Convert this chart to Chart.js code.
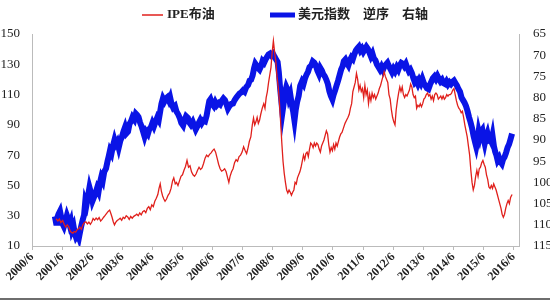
<!DOCTYPE html>
<html lang="zh">
<head>
<meta charset="UTF-8">
<title>IPE布油与美元指数</title>
<style>
    html, body { margin: 0; padding: 0; background: #fff; }
    #chartBox { width: 550px; height: 298px; border-bottom: 2px solid #6e6e6e; }
</style>
</head>
<body>
<div id="chartBox"><canvas id="oilChart" width="550" height="298"></canvas></div>

<script src="https://cdn.jsdelivr.net/npm/chart.js"></script>
<script>
    // x values are decimal years
    const oilDates = [2001.30, 2001.36, 2001.41, 2001.46, 2001.52, 2001.57, 2001.62, 2001.67, 2001.72, 2001.77, 2001.81, 2001.86, 2001.90, 2001.95, 2002.00, 2002.05, 2002.09, 2002.14, 2002.19, 2002.24, 2002.29, 2002.34, 2002.39, 2002.44, 2002.49, 2002.53, 2002.58, 2002.63, 2002.68, 2002.73, 2002.78, 2002.83, 2002.88, 2002.93, 2002.98, 2003.03, 2003.08, 2003.12, 2003.16, 2003.20, 2003.24, 2003.28, 2003.33, 2003.38, 2003.43, 2003.48, 2003.53, 2003.58, 2003.63, 2003.68, 2003.73, 2003.78, 2003.83, 2003.88, 2003.93, 2003.98, 2004.03, 2004.08, 2004.13, 2004.18, 2004.23, 2004.28, 2004.33, 2004.38, 2004.43, 2004.48, 2004.53, 2004.58, 2004.63, 2004.68, 2004.72, 2004.76, 2004.80, 2004.84, 2004.88, 2004.92, 2004.97, 2005.02, 2005.07, 2005.12, 2005.17, 2005.21, 2005.26, 2005.30, 2005.35, 2005.40, 2005.45, 2005.50, 2005.55, 2005.60, 2005.65, 2005.70, 2005.75, 2005.80, 2005.85, 2005.90, 2005.95, 2006.00, 2006.05, 2006.10, 2006.15, 2006.20, 2006.25, 2006.30, 2006.35, 2006.40, 2006.45, 2006.50, 2006.55, 2006.60, 2006.65, 2006.70, 2006.75, 2006.80, 2006.85, 2006.90, 2006.95, 2007.00, 2007.04, 2007.08, 2007.13, 2007.18, 2007.23, 2007.28, 2007.33, 2007.38, 2007.43, 2007.48, 2007.53, 2007.58, 2007.63, 2007.68, 2007.72, 2007.77, 2007.82, 2007.86, 2007.90, 2007.94, 2007.98, 2008.02, 2008.06, 2008.10, 2008.15, 2008.20, 2008.24, 2008.28, 2008.32, 2008.36, 2008.40, 2008.44, 2008.48, 2008.52, 2008.56, 2008.60, 2008.64, 2008.68, 2008.72, 2008.76, 2008.80, 2008.84, 2008.88, 2008.92, 2008.96, 2009.00, 2009.04, 2009.08, 2009.12, 2009.16, 2009.20, 2009.24, 2009.28, 2009.32, 2009.36, 2009.40, 2009.44, 2009.48, 2009.52, 2009.56, 2009.60, 2009.64, 2009.68, 2009.72, 2009.76, 2009.80, 2009.84, 2009.88, 2009.92, 2009.96, 2010.00, 2010.04, 2010.08, 2010.12, 2010.16, 2010.20, 2010.24, 2010.28, 2010.32, 2010.36, 2010.40, 2010.44, 2010.48, 2010.52, 2010.56, 2010.60, 2010.64, 2010.68, 2010.72, 2010.76, 2010.80, 2010.85, 2010.90, 2010.95, 2011.00, 2011.04, 2011.08, 2011.12, 2011.16, 2011.20, 2011.24, 2011.28, 2011.32, 2011.36, 2011.40, 2011.44, 2011.48, 2011.52, 2011.56, 2011.60, 2011.64, 2011.68, 2011.72, 2011.76, 2011.80, 2011.84, 2011.88, 2011.92, 2011.96, 2012.00, 2012.04, 2012.08, 2012.12, 2012.16, 2012.20, 2012.24, 2012.28, 2012.32, 2012.36, 2012.40, 2012.44, 2012.48, 2012.52, 2012.56, 2012.60, 2012.64, 2012.68, 2012.72, 2012.76, 2012.80, 2012.84, 2012.88, 2012.92, 2012.96, 2013.00, 2013.04, 2013.08, 2013.12, 2013.16, 2013.20, 2013.24, 2013.28, 2013.32, 2013.36, 2013.40, 2013.44, 2013.48, 2013.52, 2013.56, 2013.60, 2013.64, 2013.68, 2013.72, 2013.76, 2013.80, 2013.84, 2013.88, 2013.92, 2013.96, 2014.00, 2014.04, 2014.08, 2014.12, 2014.16, 2014.20, 2014.24, 2014.28, 2014.32, 2014.36, 2014.40, 2014.44, 2014.48, 2014.52, 2014.56, 2014.60, 2014.64, 2014.68, 2014.72, 2014.76, 2014.80, 2014.84, 2014.88, 2014.92, 2014.96, 2015.00, 2015.04, 2015.08, 2015.12, 2015.16, 2015.20, 2015.24, 2015.28, 2015.32, 2015.36, 2015.40, 2015.44, 2015.48, 2015.52, 2015.56, 2015.60, 2015.64, 2015.68, 2015.72, 2015.76, 2015.80, 2015.84, 2015.88, 2015.92, 2015.96, 2016.00, 2016.04, 2016.08, 2016.12, 2016.16, 2016.20, 2016.24, 2016.28, 2016.32, 2016.36, 2016.40, 2016.45];
    const oilValues = [28.0, 26.5, 27.8, 25.5, 26.8, 24.2, 22.5, 24.0, 22.6, 20.0, 19.0, 18.5, 19.6, 19.2, 20.8, 21.4, 22.5, 21.0, 24.0, 25.5, 26.0, 24.6, 25.8, 24.3, 26.0, 28.2, 27.0, 28.5, 27.4, 28.8, 26.5, 27.6, 29.0, 30.2, 31.5, 32.8, 33.7, 31.5, 29.0, 26.0, 24.0, 25.6, 26.8, 27.5, 28.3, 27.0, 29.0, 28.2, 30.0, 29.2, 27.6, 29.5, 28.4, 29.6, 30.2, 31.0, 30.0, 31.8, 30.6, 32.6, 33.4, 32.0, 34.8, 36.0, 34.0, 37.2, 36.0, 39.5, 41.5, 44.0, 48.0, 51.0, 46.0, 43.0, 41.0, 39.5, 41.0, 43.5, 45.0, 48.0, 53.0, 55.0, 51.0, 52.0, 50.0, 53.0, 56.0, 57.0, 60.0, 62.5, 66.5, 62.0, 63.0, 59.0, 57.0, 56.0, 57.5, 60.0, 62.0, 60.5, 61.5, 64.5, 68.0, 70.0, 69.0, 70.5, 71.5, 73.0, 74.0, 72.0, 68.0, 64.0, 61.0, 59.5, 60.0, 61.0, 59.0, 55.0, 52.0, 56.0, 59.0, 61.0, 65.0, 67.0, 66.0, 69.0, 70.0, 72.0, 75.5, 73.0, 71.0, 75.0, 79.0, 82.0, 90.0, 94.5, 90.0, 92.0, 95.0, 91.0, 93.0, 97.0, 101.0, 104.0, 101.0, 108.0, 112.0, 118.0, 123.0, 128.0, 138.0, 145.5, 138.0, 132.0, 122.0, 115.0, 105.0, 92.0, 78.0, 66.0, 58.0, 52.0, 47.0, 45.0, 47.0, 45.5, 43.5, 45.5, 47.0, 52.0, 51.0, 55.0, 57.0, 59.0, 62.0, 66.0, 70.0, 67.0, 71.0, 72.0, 69.0, 74.0, 78.0, 77.0, 75.0, 78.0, 76.0, 78.0, 77.0, 74.0, 72.0, 76.0, 78.0, 80.0, 83.0, 86.0, 84.0, 77.0, 72.0, 75.0, 73.0, 77.0, 74.0, 78.0, 76.0, 79.0, 82.0, 84.0, 85.0, 88.0, 91.0, 93.0, 95.0, 97.0, 101.0, 104.0, 112.0, 115.0, 118.0, 124.0, 120.0, 113.0, 116.0, 112.0, 114.0, 108.0, 116.0, 110.0, 113.0, 104.0, 110.0, 106.0, 111.0, 108.0, 110.0, 107.0, 109.0, 111.0, 114.0, 116.0, 119.0, 122.0, 125.0, 122.0, 120.0, 118.0, 110.0, 107.0, 100.0, 95.0, 92.0, 90.0, 100.0, 106.0, 111.0, 115.0, 112.0, 115.0, 110.0, 108.0, 110.0, 109.0, 111.0, 113.0, 117.0, 115.0, 110.0, 108.0, 109.0, 101.0, 103.0, 102.0, 104.0, 102.0, 104.0, 107.0, 108.0, 110.0, 111.0, 109.0, 110.0, 107.0, 109.0, 106.0, 110.0, 111.0, 110.0, 107.0, 108.0, 109.0, 107.0, 109.0, 107.0, 108.0, 110.0, 109.0, 110.0, 110.0, 111.0, 113.0, 114.0, 110.0, 106.0, 103.0, 101.0, 100.0, 98.0, 99.0, 95.0, 90.0, 86.0, 82.0, 76.0, 70.0, 60.0, 52.0, 47.0, 50.0, 56.0, 60.0, 56.0, 61.0, 62.0, 65.0, 66.5, 64.0, 62.0, 57.0, 54.0, 49.0, 48.0, 50.0, 48.0, 51.0, 49.0, 47.0, 44.0, 41.0, 38.0, 35.0, 31.0, 29.0, 31.0, 35.0, 38.0, 40.0, 38.0, 42.0, 44.0, 46.0, 48.0];

    const usdDates = [2001.26, 2001.30, 2001.33, 2001.38, 2001.43, 2001.48, 2001.52, 2001.56, 2001.62, 2001.66, 2001.70, 2001.75, 2001.79, 2001.83, 2001.88, 2001.92, 2001.96, 2002.02, 2002.06, 2002.09, 2002.13, 2002.18, 2002.23, 2002.27, 2002.31, 2002.36, 2002.41, 2002.46, 2002.51, 2002.56, 2002.61, 2002.66, 2002.71, 2002.76, 2002.80, 2002.85, 2002.90, 2002.96, 2003.01, 2003.05, 2003.09, 2003.14, 2003.19, 2003.24, 2003.28, 2003.33, 2003.38, 2003.43, 2003.49, 2003.54, 2003.59, 2003.64, 2003.69, 2003.74, 2003.79, 2003.84, 2003.90, 2003.95, 2003.99, 2004.04, 2004.09, 2004.14, 2004.19, 2004.24, 2004.29, 2004.35, 2004.40, 2004.45, 2004.50, 2004.55, 2004.60, 2004.66, 2004.71, 2004.76, 2004.80, 2004.85, 2004.90, 2004.95, 2005.00, 2005.05, 2005.09, 2005.14, 2005.19, 2005.25, 2005.30, 2005.36, 2005.41, 2005.46, 2005.52, 2005.57, 2005.62, 2005.68, 2005.73, 2005.78, 2005.84, 2005.89, 2005.94, 2005.99, 2006.04, 2006.09, 2006.14, 2006.19, 2006.25, 2006.30, 2006.35, 2006.39, 2006.43, 2006.48, 2006.54, 2006.59, 2006.64, 2006.70, 2006.75, 2006.80, 2006.86, 2006.91, 2006.96, 2007.01, 2007.06, 2007.12, 2007.18, 2007.23, 2007.29, 2007.34, 2007.40, 2007.45, 2007.51, 2007.56, 2007.62, 2007.68, 2007.73, 2007.78, 2007.83, 2007.88, 2007.92, 2007.96, 2008.01, 2008.06, 2008.11, 2008.16, 2008.21, 2008.26, 2008.31, 2008.36, 2008.41, 2008.46, 2008.51, 2008.56, 2008.61, 2008.66, 2008.70, 2008.74, 2008.78, 2008.82, 2008.86, 2008.90, 2008.95, 2009.00, 2009.04, 2009.08, 2009.13, 2009.18, 2009.22, 2009.26, 2009.31, 2009.36, 2009.41, 2009.47, 2009.52, 2009.57, 2009.62, 2009.67, 2009.72, 2009.78, 2009.83, 2009.88, 2009.93, 2009.98, 2010.03, 2010.08, 2010.13, 2010.18, 2010.23, 2010.28, 2010.33, 2010.38, 2010.43, 2010.48, 2010.52, 2010.57, 2010.62, 2010.67, 2010.72, 2010.77, 2010.82, 2010.86, 2010.91, 2010.96, 2011.01, 2011.06, 2011.11, 2011.16, 2011.21, 2011.26, 2011.31, 2011.36, 2011.41, 2011.46, 2011.51, 2011.56, 2011.61, 2011.66, 2011.71, 2011.76, 2011.81, 2011.86, 2011.91, 2011.96, 2012.01, 2012.06, 2012.11, 2012.16, 2012.21, 2012.26, 2012.31, 2012.36, 2012.41, 2012.46, 2012.51, 2012.56, 2012.62, 2012.67, 2012.72, 2012.77, 2012.82, 2012.87, 2012.92, 2012.97, 2013.02, 2013.07, 2013.12, 2013.17, 2013.22, 2013.27, 2013.32, 2013.37, 2013.42, 2013.47, 2013.52, 2013.57, 2013.62, 2013.67, 2013.72, 2013.77, 2013.82, 2013.87, 2013.92, 2013.97, 2014.02, 2014.07, 2014.12, 2014.17, 2014.22, 2014.27, 2014.32, 2014.37, 2014.42, 2014.47, 2014.52, 2014.57, 2014.62, 2014.67, 2014.72, 2014.77, 2014.82, 2014.87, 2014.92, 2014.97, 2015.02, 2015.07, 2015.12, 2015.17, 2015.22, 2015.26, 2015.30, 2015.34, 2015.38, 2015.42, 2015.46, 2015.50, 2015.54, 2015.58, 2015.63, 2015.68, 2015.72, 2015.76, 2015.80, 2015.85, 2015.89, 2015.93, 2015.97, 2016.02, 2016.07, 2016.11, 2016.15, 2016.20, 2016.25, 2016.30, 2016.35, 2016.40, 2016.45];
    const usdValues = [108.0, 109.5, 108.5, 107.5, 106.8, 108.6, 109.8, 110.4, 108.9, 107.8, 108.6, 110.0, 109.2, 111.2, 110.3, 112.0, 112.9, 112.2, 113.0, 111.9, 110.5, 109.0, 107.7, 104.5, 105.3, 103.3, 101.2, 102.5, 104.4, 103.5, 102.6, 101.4, 102.2, 100.0, 98.8, 99.6, 97.5, 96.7, 95.0, 93.8, 92.5, 93.2, 91.4, 90.0, 91.0, 90.4, 91.8, 90.3, 89.2, 88.0, 87.0, 88.4, 88.0, 86.2, 85.6, 84.6, 85.2, 83.8, 84.1, 84.6, 85.9, 86.8, 88.0, 89.2, 88.0, 88.6, 87.4, 87.0, 86.0, 86.8, 85.8, 84.7, 85.3, 83.2, 81.5, 80.2, 80.9, 80.2, 79.9, 80.7, 80.0, 81.6, 82.4, 82.0, 83.3, 84.0, 84.8, 86.0, 86.6, 85.3, 84.4, 84.8, 85.9, 86.4, 85.7, 86.6, 87.5, 86.8, 86.0, 85.3, 86.0, 85.4, 85.6, 84.3, 82.3, 80.8, 80.4, 81.4, 82.0, 81.1, 81.8, 81.3, 81.6, 80.8, 80.2, 80.6, 81.5, 82.6, 82.0, 81.5, 81.4, 80.6, 80.0, 79.5, 79.0, 78.8, 78.3, 78.6, 77.5, 77.0, 76.0, 75.8, 74.8, 73.0, 72.0, 72.4, 73.0, 73.4, 72.6, 71.4, 71.8, 71.0, 70.4, 69.8, 69.6, 70.1, 69.7, 70.4, 71.0, 71.6, 74.0, 77.5, 80.5, 83.5, 81.5, 79.0, 77.5, 78.3, 80.0, 79.2, 81.6, 83.4, 85.4, 83.0, 81.0, 79.6, 77.2, 76.2, 76.8, 75.5, 74.6, 73.9, 72.8, 72.4, 71.5, 71.8, 72.4, 73.6, 74.4, 73.0, 73.6, 74.5, 75.0, 75.8, 76.8, 78.5, 79.6, 80.4, 79.3, 78.3, 77.1, 76.0, 74.7, 73.4, 72.6, 71.4, 71.0, 71.8, 72.4, 71.2, 70.5, 70.9, 69.8, 68.9, 68.4, 68.0, 68.9, 68.4, 69.2, 68.6, 68.0, 68.5, 69.4, 70.3, 69.6, 70.8, 71.2, 72.2, 72.8, 73.4, 72.7, 73.5, 72.6, 72.2, 71.8, 72.6, 73.3, 74.0, 73.2, 73.8, 72.8, 73.4, 72.4, 71.8, 72.0, 72.6, 72.0, 73.0, 73.8, 73.4, 74.2, 75.4, 76.4, 76.0, 76.8, 75.9, 76.6, 75.6, 76.6, 77.2, 77.8, 78.0, 77.0, 76.2, 75.4, 75.0, 75.6, 74.9, 75.6, 76.2, 75.8, 76.6, 76.8, 76.2, 76.9, 76.4, 76.8, 76.3, 76.0, 76.6, 77.2, 78.0, 78.6, 80.0, 80.6, 81.2, 82.0, 83.2, 84.6, 85.8, 87.2, 89.0, 90.5, 91.6, 90.2, 88.0, 89.2, 88.0, 87.6, 89.5, 90.8, 89.4, 88.4, 90.0, 89.8, 90.4, 89.0, 91.6, 92.8, 93.6, 94.8, 94.2, 95.2, 95.6, 94.6, 94.0, 93.0, 91.8, 91.0, 89.8, 88.5];

    const xTickLabels = ['2000/6', '2001/6', '2002/6', '2003/6', '2004/6', '2005/6', '2006/6', '2007/6', '2008/6',
                         '2009/6', '2010/6', '2011/6', '2012/6', '2013/6', '2014/6', '2015/6', '2016/6'];
    const leftTicks = [10, 30, 50, 70, 90, 110, 130, 150];
    const rightTicks = [65, 70, 75, 80, 85, 90, 95, 100, 105, 110, 115];

    const toPoints = (xs, ys) => xs.map((x, i) => ({ x: x, y: ys[i] }));
    const tickFont = { family: 'Liberation Serif', size: 13 };

    // legend drawn by hand so the two entries sit far apart like the original
    const topLegend = {
        id: 'topLegend',
        afterDraw(chart) {
            const c = chart.ctx;
            const spots = [[142, 163, 167], [270, 295, 298]];
            c.save();
            c.font = 'bold 13px "Liberation Serif", "Noto Sans CJK SC"';
            c.textBaseline = 'middle';
            c.fillStyle = '#222';
            chart.data.datasets.forEach((ds, i) => {
                const [x1, x2, tx] = spots[i];
                c.strokeStyle = ds.borderColor;
                c.lineWidth = i === 0 ? 1.5 : 5;
                c.beginPath();
                c.moveTo(x1, 15);
                c.lineTo(x2, 15);
                c.stroke();
                c.fillText(ds.label, tx, 15);
            });
            c.restore();
        }
    };

    const ctx = document.getElementById('oilChart').getContext('2d');
    new Chart(ctx, {
        type: 'line',
        data: {
            datasets: [{
                label: 'IPE布油',
                data: toPoints(oilDates, oilValues),
                borderColor: '#e0201c',
                borderWidth: 1.3,
                pointRadius: 0,
                yAxisID: 'y'
            }, {
                label: '美元指数　逆序　右轴',
                data: toPoints(usdDates, usdValues),
                borderColor: '#0a14e6',
                borderWidth: 6,
                pointRadius: 0,
                yAxisID: 'y2'
            }]
        },
        plugins: [topLegend],
        options: {
            responsive: false,
            animation: false,
            layout: { padding: { top: 34, bottom: 0 } },
            plugins: {
                tooltip: { enabled: false },
                legend: { display: false }
            },
            scales: {
                x: {
                    type: 'linear',
                    min: 2000.5,
                    max: 2016.68,
                    afterBuildTicks: s => { s.ticks = xTickLabels.map((l, i) => ({ value: 2000.5 + i })); },
                    afterFit: s => { s.height = 52; },
                    grid: { drawOnChartArea: false, drawTicks: true, tickLength: 4, color: '#bbb' },
                    border: { color: '#bbb' },
                    ticks: {
                        minRotation: 45,
                        maxRotation: 45,
                        padding: 0,
                        color: '#222',
                        font: { family: 'Liberation Serif', size: 12, weight: 'bold' },
                        callback: (v, i) => xTickLabels[i]
                    }
                },
                y: {
                    position: 'left',
                    min: 10,
                    max: 150,
                    afterBuildTicks: s => { s.ticks = leftTicks.map(v => ({ value: v })); },
                    afterFit: s => { s.width = 32; },
                    grid: { display: false },
                    border: { color: '#bbb' },
                    ticks: { color: '#222', font: tickFont, padding: 4 }
                },
                y2: {
                    position: 'right',
                    reverse: true,
                    min: 65,
                    max: 115,
                    afterBuildTicks: s => { s.ticks = rightTicks.map(v => ({ value: v })); },
                    afterFit: s => { s.width = 31; },
                    grid: { display: false },
                    border: { color: '#bbb' },
                    ticks: { color: '#222', font: tickFont, padding: 6 }
                }
            }
        }
    });
</script>
</body>
</html>
